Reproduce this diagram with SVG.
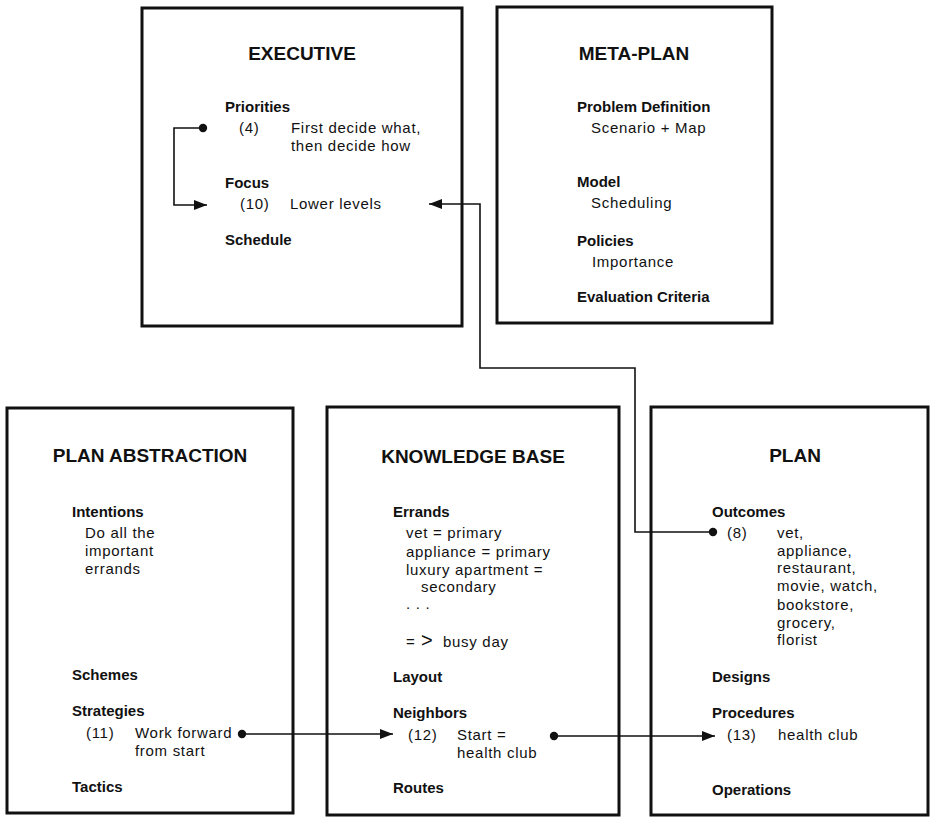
<svg xmlns="http://www.w3.org/2000/svg" width="932" height="818" viewBox="0 0 932 818">
  <style>
    .box { fill: none; stroke: #111; stroke-width: 3; }
    .title { font-family: "Liberation Sans", Arial, sans-serif; font-weight: bold; font-size: 19px; fill: #111; text-anchor: middle; }
    .lbl { font-family: "Liberation Sans", Arial, sans-serif; font-weight: bold; font-size: 15px; fill: #111; }
    .txt { font-family: "Liberation Sans", Arial, sans-serif; font-size: 15px; letter-spacing: 0.7px; fill: #111; }
    .wire { fill: none; stroke: #111; stroke-width: 1.6; marker-start: url(#dot); marker-end: url(#arrow); }
  </style>
  <defs>
    <marker id="arrow" markerUnits="userSpaceOnUse" markerWidth="14" markerHeight="12" refX="13" refY="6" orient="auto">
      <path d="M0,1 L13,6 L0,11 z" fill="#111"/>
    </marker>
    <marker id="dot" markerUnits="userSpaceOnUse" markerWidth="10" markerHeight="10" refX="5" refY="5" orient="auto">
      <circle cx="5" cy="5" r="4.2" fill="#111"/>
    </marker>
  </defs>
  <rect width="932" height="818" fill="#fff"/>

  <!-- Executive -->
  <g id="executive">
    <rect class="box" x="142" y="8" width="320" height="318"/>
    <text class="title" x="302" y="60">EXECUTIVE</text>
    <text class="lbl" x="225" y="112">Priorities</text>
    <text class="txt" x="239" y="133">(4)</text>
    <text class="txt" x="291" y="133">First decide what,</text>
    <text class="txt" x="291" y="151">then decide how</text>
    <text class="lbl" x="225" y="188">Focus</text>
    <text class="txt" x="240" y="209">(10)</text>
    <text class="txt" x="290" y="209">Lower levels</text>
    <text class="lbl" x="225" y="245">Schedule</text>
  </g>

  <!-- Meta-plan -->
  <g id="meta-plan">
    <rect class="box" x="497" y="7" width="275" height="316"/>
    <text class="title" x="634" y="60">META-PLAN</text>
    <text class="lbl" x="577" y="112">Problem Definition</text>
    <text class="txt" x="591" y="133">Scenario + Map</text>
    <text class="lbl" x="577" y="187">Model</text>
    <text class="txt" x="591" y="208">Scheduling</text>
    <text class="lbl" x="577" y="246">Policies</text>
    <text class="txt" x="592" y="267">Importance</text>
    <text class="lbl" x="577" y="302">Evaluation Criteria</text>
  </g>

  <!-- Plan abstraction -->
  <g id="plan-abstraction">
    <rect class="box" x="7" y="408" width="286" height="405"/>
    <text class="title" x="150" y="462">PLAN ABSTRACTION</text>
    <text class="lbl" x="72" y="517">Intentions</text>
    <text class="txt" x="85" y="538">Do all the</text>
    <text class="txt" x="85" y="556">important</text>
    <text class="txt" x="85" y="574">errands</text>
    <text class="lbl" x="72" y="680">Schemes</text>
    <text class="lbl" x="72" y="716">Strategies</text>
    <text class="txt" x="86" y="738">(11)</text>
    <text class="txt" x="135" y="738">Work forward</text>
    <text class="txt" x="135" y="756">from start</text>
    <text class="lbl" x="72" y="792">Tactics</text>
  </g>

  <!-- Knowledge base -->
  <g id="knowledge-base">
    <rect class="box" x="327" y="407" width="292" height="408"/>
    <text class="title" x="473" y="463">KNOWLEDGE BASE</text>
    <text class="lbl" x="393" y="517">Errands</text>
    <text class="txt" x="406" y="538">vet = primary</text>
    <text class="txt" x="406" y="557">appliance = primary</text>
    <text class="txt" x="406" y="575">luxury apartment =</text>
    <text class="txt" x="421" y="592">secondary</text>
    <text class="txt" x="406" y="609">. . .</text>
    <text class="txt" x="406" y="647">=<tspan x="421" font-size="20px">&gt;</tspan><tspan x="443">busy day</tspan></text>
    <text class="lbl" x="393" y="682">Layout</text>
    <text class="lbl" x="393" y="718">Neighbors</text>
    <text class="txt" x="408" y="740">(12)</text>
    <text class="txt" x="457" y="740">Start =</text>
    <text class="txt" x="457" y="758">health club</text>
    <text class="lbl" x="393" y="793">Routes</text>
  </g>

  <!-- Plan -->
  <g id="plan">
    <rect class="box" x="651" y="407" width="277" height="408"/>
    <text class="title" x="795" y="462">PLAN</text>
    <text class="lbl" x="712" y="517">Outcomes</text>
    <text class="txt" x="727" y="538">(8)</text>
    <text class="txt" x="777" y="538">vet,</text>
    <text class="txt" x="777" y="556">appliance,</text>
    <text class="txt" x="777" y="573">restaurant,</text>
    <text class="txt" x="777" y="591">movie, watch,</text>
    <text class="txt" x="777" y="610">bookstore,</text>
    <text class="txt" x="777" y="628">grocery,</text>
    <text class="txt" x="777" y="645">florist</text>
    <text class="lbl" x="712" y="682">Designs</text>
    <text class="lbl" x="712" y="718">Procedures</text>
    <text class="txt" x="727" y="740">(13)</text>
    <text class="txt" x="778" y="740">health club</text>
    <text class="lbl" x="712" y="795">Operations</text>
  </g>

  <!-- Connectors: dot marks the source item, arrow the target item -->
  <g id="connectors">
    <path class="wire" d="M203,128 H174 V205 H207"/>
    <path class="wire" d="M713,532 H635 V368 H480 V204 H429"/>
    <path class="wire" d="M242,734 H393"/>
    <path class="wire" d="M554,736 H715"/>
  </g>
</svg>
